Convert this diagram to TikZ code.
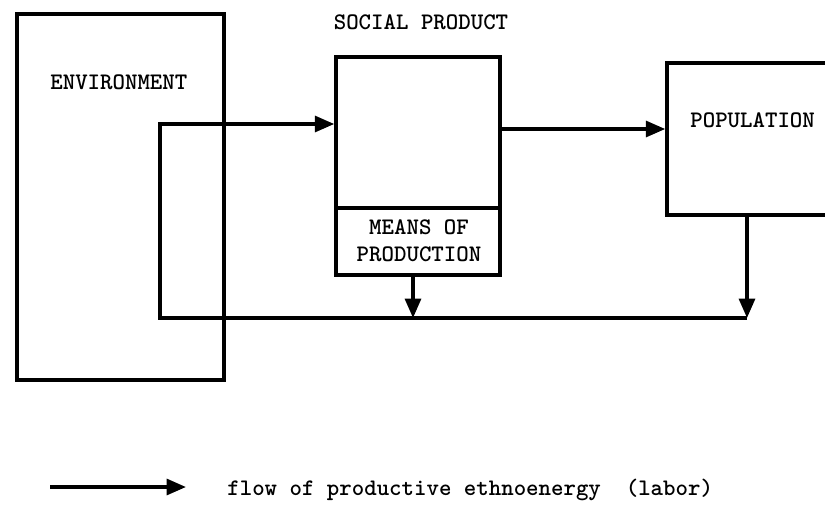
\documentclass[tikz,border=0pt]{standalone}
\usetikzlibrary{arrows.meta}
\begin{document}
\begin{tikzpicture}[x=0.02cm,y=-0.02cm,
  box/.style={draw,line width=2pt,rectangle,inner sep=0pt},
  lbl/.style={font=\fontsize{13.5}{15.5}\selectfont\ttfamily\bfseries,inner sep=0pt},
  arr/.style={line width=2pt,-{Triangle[length=11pt,width=9pt]}},
  ln/.style={line width=2pt}]
\clip (0,0) rectangle (825,514);
\fill[white] (0,0) rectangle (825,514);
% boxes
\node[box,minimum width=4.14cm,minimum height=7.32cm] (env) at (120.5,197) {};
\node[box,minimum width=3.28cm,minimum height=3.02cm] (sp) at (418,132.5) {};
\node[box,minimum width=3.28cm,minimum height=1.34cm] (mop) at (418,241.5) {};
\node[box,minimum width=3.56cm,minimum height=3.04cm] (pop) at (756,139) {};
% labels
\node[lbl,anchor=west] (envl) at (50,82) {ENVIRONMENT};
\node[lbl] (spl) at (421,22) {SOCIAL PRODUCT};
\node[lbl,anchor=west] (popl) at (690,120) {POPULATION};
\node[lbl,align=center] (mopl) at (419,241) {MEANS OF\\PRODUCTION};
% connector coordinates
\coordinate (jr) at (747,318);
\coordinate (jm) at (413,318);
\coordinate (jl) at (160,318);
\coordinate (tl) at (160,124);
\coordinate (sy) at (0,129);
% connectors
\draw[arr] (pop.south -| jr) -- (jr);
\draw[arr] (mop.south -| jm) -- (jm);
\draw[arr] (jr) -- (jl) -- (tl) -- (tl -| sp.west);
\draw[arr] (sp.east |- sy) -- (pop.west |- sy);
% legend
\coordinate (la) at (50,487);
\coordinate (lb) at (186,487);
\draw[arr] (la) -- (lb);
\node[lbl,anchor=west] (leg) at (227,490) {flow of productive ethnoenergy\ \ (labor)};
\end{tikzpicture}
\end{document}
